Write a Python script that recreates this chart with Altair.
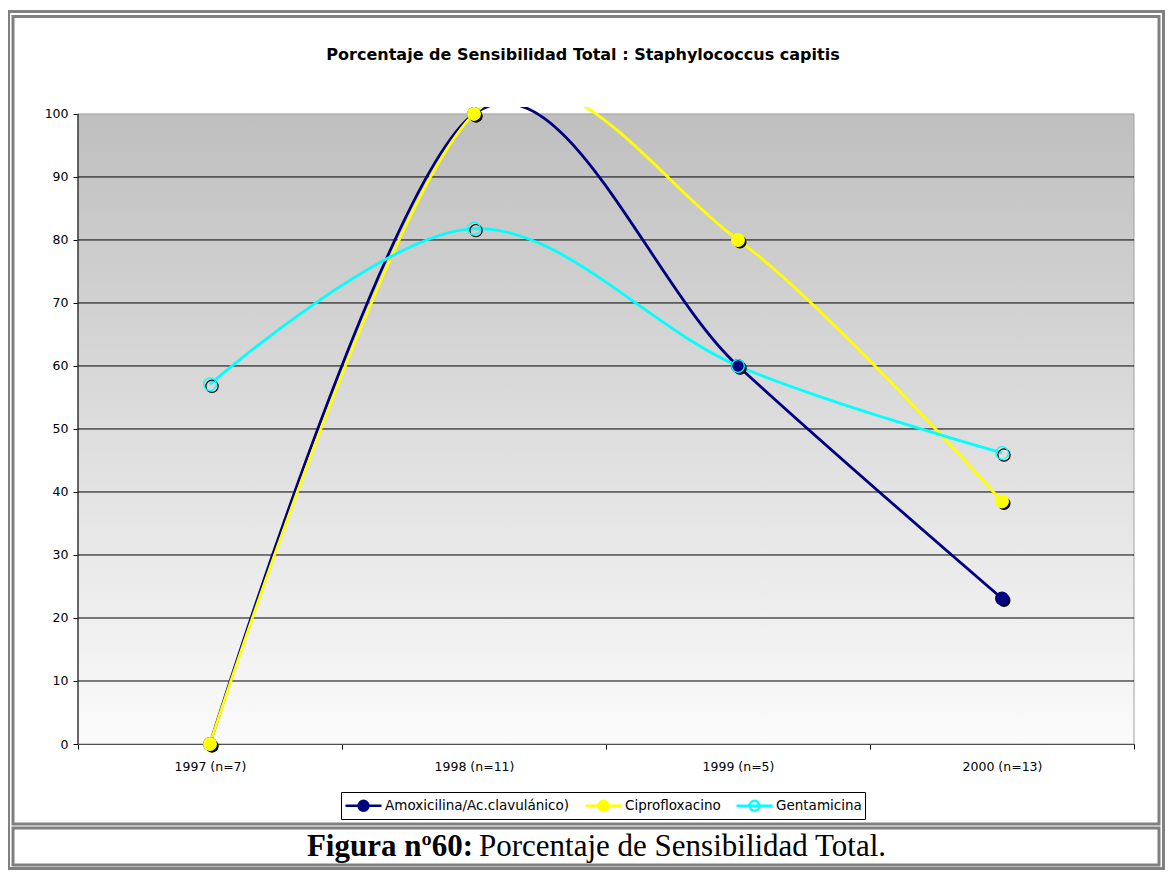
import altair as alt
import pandas as pd

# ---------------- data ----------------
years = ["1997 (n=7)", "1998 (n=11)", "1999 (n=5)", "2000 (n=13)"]
series = ["Amoxicilina/Ac.clavulánico)", "Ciprofloxacino", "Gentamicina"]
amox = [0, 100, 60, 23.1]
cipro = [0, 100, 80, 38.5]
genta = [57.1, 81.8, 60, 46.2]
hollow = [False, False, True]
line_colors = ["#000080", "#FFFF00", "#00FFFF"]
fill_colors = ["#000080", "#FFFF00", "transparent"]
yticks = [0, 10, 20, 30, 40, 50, 60, 70, 80, 90, 100]
grid_values = [10, 20, 30, 40, 50, 60, 70, 80, 90]
title_text = "Porcentaje de Sensibilidad Total : Staphylococcus capitis"
caption_bold = "Figura nº60:"
caption_text = "Porcentaje de Sensibilidad Total."

rows = []
for s, h, vals in zip(series, hollow, [amox, cipro, genta]):
    for yr, v in zip(years, vals):
        rows.append({"serie": s, "year": yr, "value": v, "hollow": h})
df = pd.DataFrame(rows)

# ---------------- layout ----------------
W, H = 1056, 637
YMAX = 101.1
FONT = "DejaVu Sans"
GRAY = "#808080"

xscale = alt.Scale(type="band", domain=years, paddingInner=0, paddingOuter=0)
yscale = alt.Scale(domain=[0, YMAX], nice=False, zero=True)

xaxis = alt.Axis(tickBand="extent", tickSize=5, tickColor="black", domainColor="black",
                 labelFontSize=12.5, labelColor="black", labelFont=FONT, labelPadding=11,
                 labelAngle=0, title=None, grid=False)
yaxis = alt.Axis(values=yticks, grid=False, domain=False, tickSize=5, tickColor="black",
                 labelFontSize=12.5, labelColor="black", labelFont=FONT, labelPadding=5,
                 title=None)


def X():
    return alt.X("year:N", scale=xscale, axis=xaxis, bandPosition=0.5, title=None)


def Yf(field):
    return alt.Y(field, scale=yscale, axis=yaxis, title=None)


def Yd(v):
    return alt.Y(datum=v, scale=yscale, axis=yaxis, title=None)


# legend glyph: a line segment with a circle marker (unit = 9 px)
legend_path = ("M-1,0L3,0M0.45,0A0.55,0.55,0,1,0,1.55,0"
               "A0.55,0.55,0,1,0,0.45,0Z")
leg = alt.Legend(title=None, symbolType=legend_path)

one = pd.DataFrame({"k": [0]})

gradient = alt.Gradient(
    gradient="linear",
    stops=[alt.GradientStop(color="#bfbfbf", offset=0),
           alt.GradientStop(color="#fbfbfb", offset=1)],
    x1=0, x2=0, y1=0, y2=1,
)

background = alt.Chart(one).mark_rect(color=gradient, stroke="#a0a0a0", strokeWidth=1).encode(
    x=alt.value(0), x2=alt.value(W), y=Yd(100), y2=alt.Y2(datum=0)
)

grid = alt.Chart(pd.DataFrame({"v": grid_values})).mark_rule(color="#000000", strokeWidth=1).encode(
    y=Yf("v:Q"), x=alt.value(0), x2=alt.value(W)
)

yline = alt.Chart(one).mark_rule(color="black", strokeWidth=1).encode(
    x=alt.value(0), y=Yd(0), y2=alt.Y2(datum=100)
)

lines = alt.Chart(df).mark_line(interpolate="cardinal", strokeWidth=2.8, clip=True).encode(
    x=X(), y=Yf("value:Q"),
    stroke=alt.Stroke("serie:N", scale=alt.Scale(domain=series, range=line_colors), legend=leg),
)

shadow_fill = alt.Chart(df).transform_filter("!datum.hollow").mark_circle(
    size=170, color="black", opacity=1, xOffset=2, yOffset=2
).encode(x=X(), y=Yf("value:Q"), detail="serie:N")

shadow_ring = alt.Chart(df).transform_filter("datum.hollow").mark_point(
    shape="circle", size=150, filled=False, color="black", opacity=1, strokeWidth=1.2,
    xOffset=2, yOffset=2
).encode(x=X(), y=Yf("value:Q"), detail="serie:N")

points = alt.Chart(df).mark_point(shape="circle", size=160, filled=True, opacity=1,
                                  strokeWidth=1.3).encode(
    x=X(), y=Yf("value:Q"),
    fill=alt.Fill("serie:N", scale=alt.Scale(domain=series, range=fill_colors), legend=leg),
    stroke=alt.Stroke("serie:N", scale=alt.Scale(domain=series, range=line_colors), legend=leg),
)

title = alt.Chart(pd.DataFrame({"t": [title_text]})).mark_text(
    font=FONT, fontSize=16, fontWeight="bold", align="center", baseline="middle", color="black"
).encode(text="t:N", x=alt.value(505), y=alt.value(-52))

frame_outer = alt.Chart(one).mark_rect(fill=None, stroke=GRAY, strokeWidth=3).encode(
    x=alt.value(-69.5), x2=alt.value(1085.5), y=alt.value(-95.5), y2=alt.value(761.5)
)
frame_chart = alt.Chart(one).mark_rect(fill=None, stroke=GRAY, strokeWidth=3).encode(
    x=alt.value(-65), x2=alt.value(1081), y=alt.value(-90.5), y2=alt.value(717)
)
frame_caption = alt.Chart(one).mark_rect(fill=None, stroke=GRAY, strokeWidth=3).encode(
    x=alt.value(-65), x2=alt.value(1081), y=alt.value(721), y2=alt.value(758)
)

cap1 = alt.Chart(pd.DataFrame({"t": [caption_bold]})).mark_text(
    font="Liberation Serif", fontSize=31, fontWeight="bold", align="right",
    baseline="middle", color="black"
).encode(text="t:N", x=alt.value(395), y=alt.value(740))
cap2 = alt.Chart(pd.DataFrame({"t": [caption_text]})).mark_text(
    font="Liberation Serif", fontSize=31, align="left", baseline="middle", color="black"
).encode(text="t:N", x=alt.value(401), y=alt.value(740))

chart = alt.layer(
    frame_outer, frame_chart, frame_caption,
    background, grid, yline, lines, shadow_fill, shadow_ring, points,
    title, cap1, cap2,
).properties(
    width=W, height=H,
    autosize=alt.AutoSizeParams(type="none"),
    padding={"left": 70, "top": 99, "right": 31, "bottom": 126},
    background="white",
).configure_view(stroke=None).configure_legend(
    orient="none", legendX=263, legendY=685, direction="horizontal", columns=3,
    symbolSize=324, symbolStrokeWidth=2.5, labelFont=FONT, labelFontSize=13.5,
    labelColor="black", strokeColor="black", fillColor="white", padding=3,
    columnPadding=10, labelOffset=20, symbolOpacity=1, labelLimit=0,
)

chart.save("out.html", embed_options={"renderer": "svg", "actions": False})
